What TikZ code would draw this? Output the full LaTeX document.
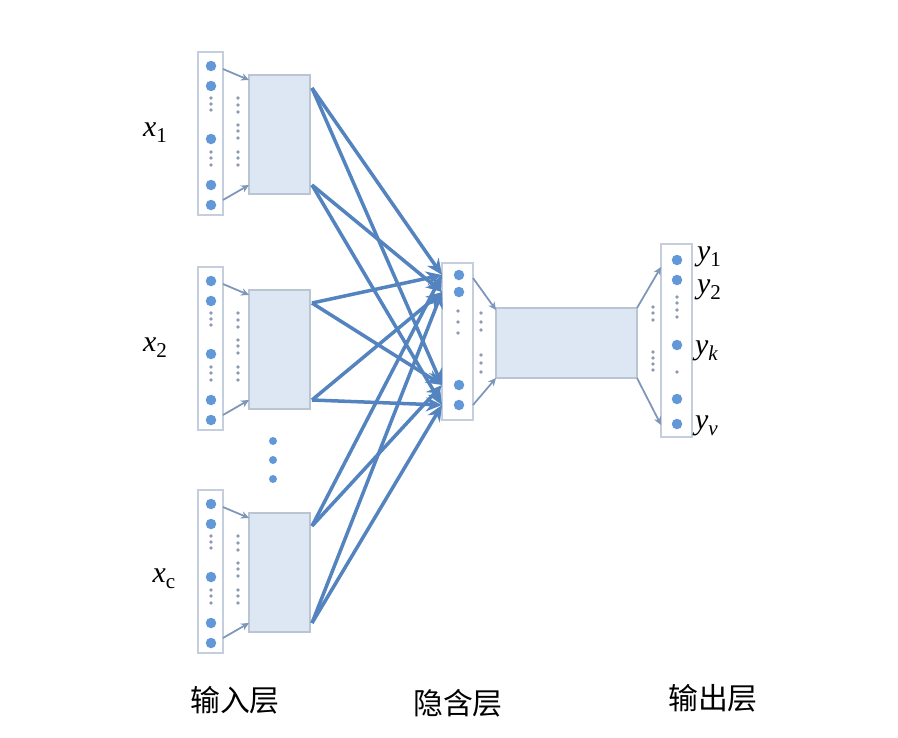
\documentclass[tikz,border=0pt]{standalone}
\usepackage{fontspec}
\setmainfont{Liberation Serif}
\newfontfamily\cjk{Noto Sans CJK SC}
\newfontfamily\timesfont{Liberation Serif}
\usetikzlibrary{arrows.meta,calc}

\definecolor{linkblue}{RGB}{84,132,192}
\definecolor{feedblue}{RGB}{125,150,185}
\definecolor{colline}{RGB}{196,206,220}
\definecolor{blockfill}{RGB}{221,231,243}
\definecolor{blockline}{RGB}{186,197,212}
\definecolor{unitblue}{RGB}{98,152,216}
\definecolor{dotgray}{RGB}{140,155,178}

\newcommand{\lsub}[1]{\raisebox{-0.45ex}{\fontsize{12}{12}\selectfont #1}}

\tikzset{
	layercol/.style={draw=colline, fill=white, line width=0.9pt, inner sep=0pt, outer sep=0pt},
	blockrect/.style={draw=blockline, fill=blockfill, line width=0.6pt, inner sep=0pt, outer sep=0pt},
	unitdot/.style={circle, fill=unitblue, inner sep=0pt, minimum size=2.1mm},
	tinydot/.style={circle, fill=dotgray, inner sep=0pt, minimum size=0.75mm},
	feed/.style={draw=feedblue, line width=1pt, -{Stealth[length=1.6mm,width=1.5mm]}},
	link/.style={draw=linkblue, line width=2pt, -{Stealth[length=3.2mm,width=2.8mm]}},
	varlabel/.style={font=\timesfont\fontsize{17}{19}\selectfont, inner sep=1pt},
	layerlabel/.style={font=\cjk\fontsize{17}{20}\selectfont}
}

\begin{document}
\begin{tikzpicture}[x=0.02cm,y=-0.02cm]
	\useasboundingbox (0,0) rectangle (898,737);

	%INPUT LAYER
	\foreach \b/\dy in {1/0, 2/215, 3/438} {
		\node[layercol, minimum width=5mm, minimum height=32.6mm] (col\b) at (210.5,133.5+\dy) {};
		\node[blockrect, minimum width=12.2mm, minimum height=23.8mm] (in\b) at (279.5,134.5+\dy) {};
		\foreach \u/\uy in {a/66, b/86, c/139, d/185, e/205}
			\node[unitdot] (col\b\u) at (211,\uy+\dy) {};
		\foreach \dd [count=\k] in {98,104,110,152,158,165}
			\node[tinydot] (dA\b\k) at (211,\dd+\dy) {};
		\foreach \dd [count=\k] in {98,105,112,125,131,138,152,158,165}
			\node[tinydot] (dB\b\k) at (238,\dd+\dy) {};
		\draw[feed] ($(col\b.north east)+(0,17)$) -- ($(in\b.north west)+(0,5)$);
		\draw[feed] ($(col\b.south east)+(0,-15)$) -- ($(in\b.south west)+(0,-9)$);
		\coordinate (in\b t) at ($(in\b.north east)+(2,13)$);
		\coordinate (in\b b) at ($(in\b.south east)+(2,-9)$);
	}
	\node[varlabel] (lx1) at (155,133) {\textit{x}\lsub{1}};
	\node[varlabel] (lx2) at (155,348) {\textit{x}\lsub{2}};
	\node[varlabel] (lx3) at (164,579) {\textit{x}\lsub{c}};
	% vertical dots
	\foreach \vy [count=\k] in {441,460,479}
		\node[unitdot, minimum size=1.6mm] (vd\k) at (273,\vy) {};

	%HIDDEN LAYER
	\node[layercol, minimum width=6.2mm, minimum height=31.4mm] (hid) at (457.5,341.5) {};
	\foreach \uy [count=\k] in {275,292,385,405}
		\node[unitdot] (h\k) at (459,\uy) {};
	\foreach \dd [count=\k] in {311,322,333}
		\node[tinydot] (hdA\k) at (458,\dd) {};
	\foreach \dd [count=\k] in {313,322,330,355,363,372}
		\node[tinydot] (hdB\k) at (481,\dd) {};
	\node[blockrect, minimum width=28.2mm, minimum height=14mm] (proj) at (566.5,343) {};
	\draw[feed] ($(hid.north east)+(0,15)$) -- ($(proj.north west)+(0,2)$);
	\draw[feed] ($(hid.south east)+(0,-15)$) -- (proj.south west);

	%LINKS
	\foreach \b in {1,2,3} {
		\draw[link] (in\b t) -- (hid.west |- h1);
		\draw[link] (in\b t) -- (hid.west |- h3);
		\draw[link] (in\b b) -- (hid.west |- h2);
		\draw[link] (in\b b) -- (hid.west |- h4);
	}

	%OUTPUT LAYER
	\node[layercol, minimum width=6.2mm, minimum height=38.6mm] (outcol) at (676.5,340.5) {};
	\foreach \uy [count=\k] in {260,280,345,399,424}
		\node[unitdot] (o\k) at (677,\uy) {};
	\foreach \dd [count=\k] in {297,303,310,317,372}
		\node[tinydot] (odA\k) at (677,\dd) {};
	\foreach \dd [count=\k] in {307,313,320,352,358,364,370}
		\node[tinydot] (odB\k) at (653,\dd) {};
	\draw[feed] (proj.north east) -- ($(outcol.north west)+(0,23)$);
	\draw[feed] (proj.south east) -- ($(outcol.south west)+(0,-12)$);
	\node[varlabel, anchor=west] (ly1) at (695,257) {\textit{y}\lsub{1}};
	\node[varlabel, anchor=west] (ly2) at (695,290) {\textit{y}\lsub{2}};
	\node[varlabel, anchor=west] (lyk) at (693,351) {\textit{y}\lsub{\textit{k}}};
	\node[varlabel, anchor=west] (lyv) at (693,426) {\textit{y}\lsub{\textit{v}}};

	%LAYER NAMES
	\node[layerlabel] (nin) at (235,700) {输入层};
	\node[layerlabel] (nhid) at (458,703) {隐含层};
	\node[layerlabel] (nout) at (713,698) {输出层};
\end{tikzpicture}
\end{document}
